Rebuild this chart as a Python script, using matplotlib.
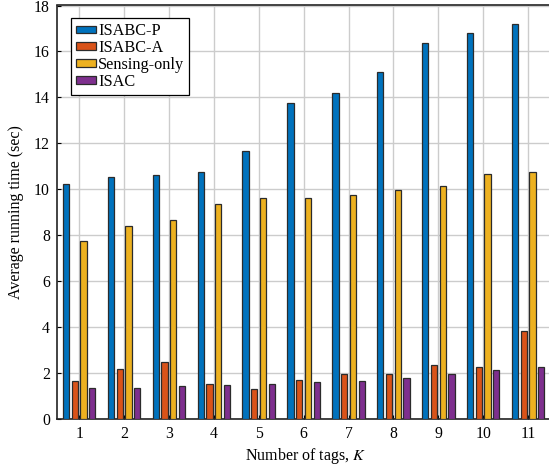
import matplotlib
matplotlib.use("Agg")
import matplotlib.pyplot as plt
import numpy as np

plt.rcParams["font.family"] = ["Liberation Serif", "DejaVu Serif"]
plt.rcParams["mathtext.fontset"] = "stix"

# running time per number of tags (sec)
num_tags = [1, 2, 3, 4, 5, 6, 7, 8, 9, 10, 11]
isabc_p = [10.24, 10.53, 10.61, 10.75, 11.68, 13.74, 14.2, 15.09, 16.39, 16.8, 17.2]
isabc_a = [1.66, 2.19, 2.5, 1.55, 1.3, 1.72, 1.98, 1.98, 2.36, 2.26, 3.84]
sensing_only = [7.77, 8.43, 8.65, 9.35, 9.61, 9.63, 9.77, 9.98, 10.16, 10.68, 10.77]
isac = [1.35, 1.36, 1.45, 1.49, 1.52, 1.61, 1.68, 1.81, 1.96, 2.16, 2.27]

series = [
    ("ISABC-P", isabc_p, "#0072BD"),
    ("ISABC-A", isabc_a, "#D95319"),
    ("Sensing-only", sensing_only, "#EDB120"),
    ("ISAC", isac, "#7E2F8E"),
]

fig = plt.figure(figsize=(5.49, 4.65), dpi=100)
ax = fig.add_axes([56.7 / 549, 1 - 419.3 / 465, 497 / 549, 413.8 / 465])

x = np.array(num_tags, dtype=float)
slot = 0.195
width = 0.14
for i, (name, vals, col) in enumerate(series):
    ax.bar(x + (i - 1.5) * slot, vals, width, color=col, edgecolor="#2b2b2b",
           linewidth=0.9, label=name, zorder=3)

ax.set_xlim(0.5, 11.57)
ax.set_ylim(0, 18)
ax.set_xticks(num_tags)
ax.set_yticks(np.arange(0, 19, 2))
ax.tick_params(labelsize=11.3, direction="in", length=3, width=0.8, pad=5)
ax.grid(True, color="#cccccc", linewidth=1.0, zorder=0)
ax.set_axisbelow(True)
for s in ax.spines.values():
    s.set_linewidth(1.2)
    s.set_color("#222222")

ax.set_xlabel(r"Number of tags, $K$", fontsize=11.5, labelpad=3)
ax.set_ylabel("Average running time (sec)", fontsize=11.5, labelpad=7)

leg = ax.legend(loc="upper left", bbox_to_anchor=(0.029, 0.969), fontsize=11.7,
                frameon=True, fancybox=False, edgecolor="black", framealpha=1,
                handlelength=1.25, handleheight=0.35, handletextpad=0.12,
                labelspacing=0.05, borderpad=0.3, borderaxespad=0)
leg.get_frame().set_linewidth(0.9)

fig.savefig("out.png", dpi=100, facecolor="white")
